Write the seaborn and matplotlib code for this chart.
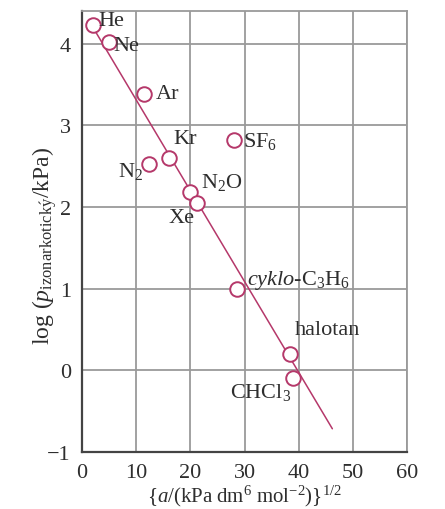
import numpy as np
import pandas as pd
import matplotlib
matplotlib.use("Agg")
import matplotlib.pyplot as plt
import seaborn as sns

# ---- data ----
gases = ["He", "Ne", "Ar", "Kr", "N2", "SF6", "N2O", "Xe", "cyklo-C3H6", "halotan", "CHCl3"]
labels = [r"He", r"Ne", r"Ar", r"Kr", r"N$_2$", r"SF$_6$", r"N$_2$O", r"Xe",
          r"$\mathit{cyklo}$-C$_3$H$_6$", r"halotan", r"CHCl$_3$"]
sqrt_a = [2.0, 5.0, 11.5, 16.0, 12.3, 28.1, 20.0, 21.2, 28.7, 38.4, 39.0]
log_p = [4.23, 4.02, 3.38, 2.60, 2.53, 2.82, 2.19, 2.05, 1.00, 0.20, -0.10]

# fitted line
fit_intercept = 4.43
fit_slope = -0.1114
fit_x_range = [1.5, 46.2]

x_ticks = [0, 10, 20, 30, 40, 50, 60]
y_ticks = [-1, 0, 1, 2, 3, 4]

# label offsets in pixels (dx, dy, ha)
label_style = {
    "He": (6, 5, "left"),
    "Ne": (4, -3, "left"),
    "Ar": (12, 1, "left"),
    "Kr": (5, 20, "left"),
    "N2": (-5, -7, "right"),
    "SF6": (9, 0, "left"),
    "N2O": (11, 10, "left"),
    "Xe": (-2, -14, "right"),
    "cyklo-C3H6": (10, 9, "left"),
    "halotan": (5, 24, "left"),
    "CHCl3": (-2, -13, "right"),
}

sns.set_style("white")
plt.rcParams["font.family"] = ["Liberation Serif", "DejaVu Serif"]
plt.rcParams["mathtext.fontset"] = "custom"
plt.rcParams["mathtext.rm"] = "Liberation Serif"
plt.rcParams["mathtext.it"] = "Liberation Serif:italic"
plt.rcParams["mathtext.bf"] = "Liberation Serif:bold"

color = "#b5386a"
text_color = "#2e2e2e"

df = pd.DataFrame({"gas": gases, "x": sqrt_a, "y": log_p})
line_x = np.array(fit_x_range)
line_df = pd.DataFrame({"x": line_x, "y": fit_intercept + fit_slope * line_x})

fig = plt.figure(figsize=(4.45, 5.10), dpi=100)
ax = fig.add_axes([0.184, 0.112, 0.731, 0.864])

sns.lineplot(data=line_df, x="x", y="y", ax=ax, color=color, lw=1.1, zorder=3)
sns.scatterplot(data=df, x="x", y="y", ax=ax, marker="o", s=110,
                facecolors="white", edgecolor=color, linewidth=1.4, zorder=4)

for g, lab, xv, yv in zip(gases, labels, sqrt_a, log_p):
    dx, dy, ha = label_style[g]
    ax.annotate(lab, (xv, yv), xytext=(dx, dy), textcoords="offset pixels",
                ha=ha, va="center", fontsize=16, color=text_color, zorder=5)

ax.set_xlim(0, 60)
ax.set_ylim(-1, 4.4)
ax.set_xticks(x_ticks)
ax.set_yticks(y_ticks)
ax.set_yticklabels(["\u22121" if t < 0 else str(t) for t in y_ticks])
ax.grid(True, color="#9a9a9a", lw=1.3)
ax.set_axisbelow(True)
ax.tick_params(axis="both", length=0, labelsize=16, colors=text_color, pad=8)

for s in ["top", "right"]:
    ax.spines[s].set_color("#9a9a9a")
    ax.spines[s].set_linewidth(1.3)
for s in ["left", "bottom"]:
    ax.spines[s].set_color("#444444")
    ax.spines[s].set_linewidth(1.6)

ax.set_xlabel(r"$\{a/(\mathrm{kPa\ dm^{6}\ mol^{-2}})\}^{1/2}$", fontsize=15,
              color=text_color, va="center")
ax.xaxis.set_label_coords(0.5, -0.098)
ax.set_ylabel(r"log ($p_{\mathrm{izonarkotick\acute{y}}}$/kPa)", fontsize=17,
              color=text_color, va="center")
ax.yaxis.set_label_coords(-0.115, 0.47)

fig.savefig("out.png", dpi=100)
